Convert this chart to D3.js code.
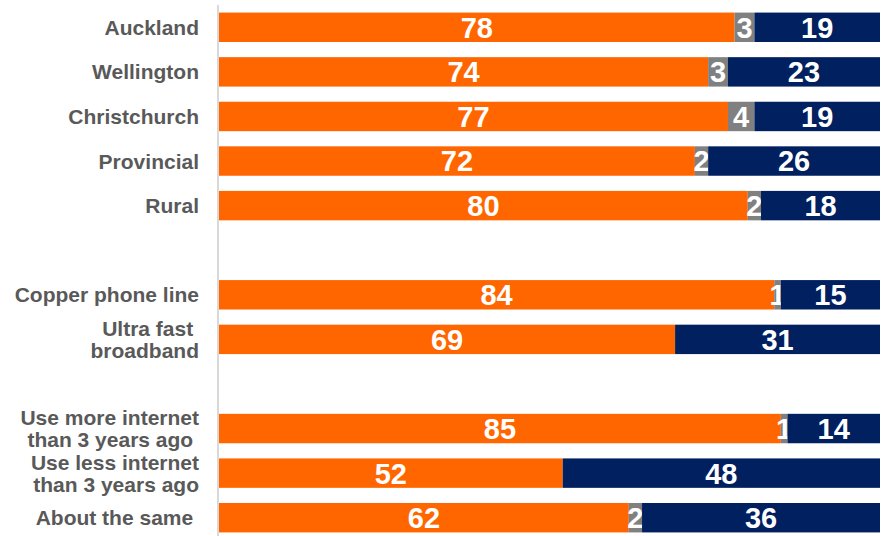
<!DOCTYPE html>
<html>
<head>
<meta charset="utf-8">
<script src="https://cdn.jsdelivr.net/npm/d3@7"></script>
<style>
  body { margin: 0; background: #fff; }
  text { font-family: "Liberation Sans", Arial, sans-serif; font-weight: bold; }
</style>
</head>
<body>
<div id="chart"></div>
<script>
// categories, empty string = gap row
var categories = ["Auckland", "Wellington", "Christchurch", "Provincial", "Rural", "",
  "Copper phone line", "Ultra fast \nbroadband", "",
  "Use more internet\nthan 3 years ago ", "Use less internet\nthan 3 years ago", "About the same "];
var yes   = [78, 74, 77, 72, 80, null, 84, 69, null, 85, 52, 62];
var dk    = [3, 3, 4, 2, 2, null, 1, 0, null, 1, 0, 2];
var no    = [19, 23, 19, 26, 18, null, 15, 31, null, 14, 48, 36];
var seriesKeys = ["yes", "dk", "no"];
var colors = ["#FF6600", "#808080", "#002060"];

var width = 888, height = 536;
var margin = { top: 5, left: 219, right: 8, bottom: -4 };

var rows = categories.map(function(c, i){
  return { i: i, label: c, yes: yes[i], dk: dk[i], no: no[i] };
});

var svg = d3.select("#chart").append("svg")
  .attr("width", width).attr("height", height);

var x = d3.scaleLinear().domain([0, 100]).range([margin.left, width - margin.right]);
var y = d3.scaleBand().domain(d3.range(categories.length))
  .range([margin.top, height - margin.bottom]).paddingInner(0.34).paddingOuter(0.17);

var stack = d3.stack().keys(seriesKeys);
var stacked = stack(rows.filter(function(d){ return d.yes != null; }));

var layers = svg.selectAll(".layer").data(stacked).enter().append("g")
  .attr("class", "layer")
  .attr("fill", function(d, i){ return colors[i]; });

layers.selectAll("rect").data(function(d){ return d; }).enter().append("rect")
  .attr("x", function(d){ return x(d[0]); })
  .attr("y", function(d){ return y(d.data.i); })
  .attr("width", function(d){ return x(d[1]) - x(d[0]); })
  .attr("height", y.bandwidth());

layers.selectAll("text").data(function(d){ return d.filter(function(p){ return p[1] - p[0] > 0; }); })
  .enter().append("text")
  .attr("x", function(d){ return (x(d[0]) + x(d[1])) / 2; })
  .attr("y", function(d){ return y(d.data.i) + y.bandwidth() / 2; })
  .attr("dy", "0.36em")
  .attr("text-anchor", "middle")
  .attr("fill", "#fff")
  .style("font-size", "29px")
  .text(function(d){ return d[1] - d[0]; });

// axis line
svg.append("line")
  .attr("x1", margin.left - 1).attr("x2", margin.left - 1)
  .attr("y1", 5).attr("y2", height)
  .attr("stroke", "#d9d9d9").attr("stroke-width", 2);

// category labels
var labels = svg.selectAll(".cat").data(rows.filter(function(d){ return d.label != ""; }))
  .enter().append("text")
  .attr("class", "cat")
  .attr("text-anchor", "end")
  .attr("fill", "#595959")
  .style("font-size", "21px")
  .style("white-space", "pre")
  .attr("transform", function(d){ return "translate(199," + (y(d.i) + y.bandwidth() / 2) + ")"; });

labels.each(function(d){
  var lines = d.label.split("\n");
  var t = d3.select(this);
  lines.forEach(function(l, k){
    t.append("tspan")
      .attr("x", 0)
      .attr("y", (k - (lines.length - 1) / 2) * 22)
      .attr("dy", "0.36em")
      .text(l);
  });
});
</script>
</body>
</html>
